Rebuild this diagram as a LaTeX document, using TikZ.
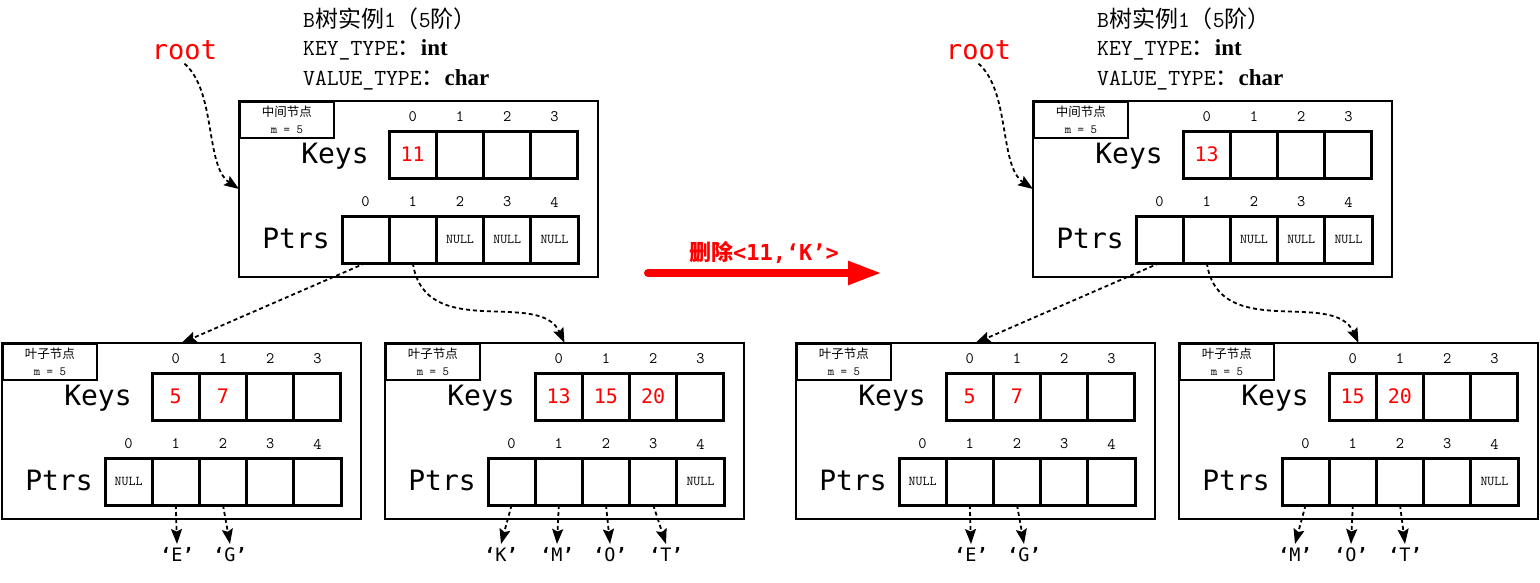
\documentclass[tikz,border=0pt]{standalone}
\usepackage{fontspec}
\usetikzlibrary{arrows.meta}
\newfontfamily\cjk{Noto Sans CJK SC}
\newfontfamily\dvm{DejaVu Sans Mono}
\newfontfamily\lserif{Liberation Serif}
\begin{document}
\begin{tikzpicture}[x=1pt,y=-1pt,
  obox/.style={draw, line width=2pt, minimum width=359pt, minimum height=176pt, inner sep=0pt, outer sep=0pt},
  lbox/.style={draw, line width=1.8pt, minimum width=94pt, minimum height=36pt, inner sep=0pt, align=center, font=\fontsize{12.5}{17}\selectfont},
  cell/.style={draw, line width=3pt, minimum width=47.2pt, minimum height=47pt, inner sep=0pt, outer sep=0pt},
  idx/.style={font=\ttfamily\fontsize{16}{16}\selectfont, inner sep=0pt},
  keysf/.style={font=\dvm\fontsize{28}{30}\selectfont, inner sep=0pt},
  keyv/.style={font=\dvm\fontsize{20}{22}\selectfont, text=red, inner sep=0pt},
  nullv/.style={font=\ttfamily\fontsize{13.5}{14}\selectfont, inner sep=0pt},
  chv/.style={font=\dvm\fontsize{18.5}{20}\selectfont, anchor=north, inner sep=3pt},
  hdr/.style={anchor=base west, inner sep=0pt, font=\ttfamily\fontsize{23}{25}\selectfont},
  rootf/.style={font=\dvm\fontsize{27}{29}\selectfont, text=red, anchor=base, inner sep=4pt},
  ptrarrow/.style={line width=1.8pt, dash pattern=on 4pt off 3pt, -{Stealth[length=15pt,width=11pt,inset=2.5pt]}},
  bnode/.pic={
    \node[obox, anchor=north west] (-box) at (0,0) {};
    \node[lbox, anchor=north west] (-lab) at (0,0) {{\cjk #1}\\{\ttfamily m = 5}};
    \node[keysf, anchor=base] (-kt) at (96,62) {Keys};
    \node[keysf, anchor=base] (-pt) at (57,147) {Ptrs};
    \foreach \i in {0,...,3}{
      \node[cell] (-k\i) at ({173.625+47.25*\i},53.5) {};
      \node[idx] (-ki\i) at ({173.625+47.25*\i},16) {\i};
    }
    \foreach \i in {0,...,4}{
      \node[cell] (-p\i) at ({126.6+47.2*\i},138.5) {};
      \node[idx] (-pi\i) at ({126.6+47.2*\i},101) {\i};
    }
  }
]
\useasboundingbox (0,0) rectangle (1540,582);

% ---------------- left panel ----------------
\node[hdr] (h1) at (303,27) {B{\cjk 树实例}1{\cjk （}5{\cjk 阶）}};
\node[hdr] (h2) at (303,55) {KEY\_TYPE{\cjk ：}{\lserif\bfseries int}};
\node[hdr] (h3) at (303,85) {VALUE\_TYPE{\cjk ：}{\lserif\bfseries char}};
\node[rootf] (rootL) at (184.5,59) {root};

\pic (R) at (239,101) {bnode=中间节点};
\pic (L1) at (2,343) {bnode=叶子节点};
\pic (L2) at (385,343) {bnode=叶子节点};

\node[keyv] (rv0) at (R-k0) {11};
\node[nullv] (rn2) at (R-p2) {NULL};
\node[nullv] (rn3) at (R-p3) {NULL};
\node[nullv] (rn4) at (R-p4) {NULL};

\node[keyv] (l1v0) at (L1-k0) {5};
\node[keyv] (l1v1) at (L1-k1) {7};
\node[nullv] (l1n0) at (L1-p0) {NULL};

\node[keyv] (l2v0) at (L2-k0) {13};
\node[keyv] (l2v1) at (L2-k1) {15};
\node[keyv] (l2v2) at (L2-k2) {20};
\node[nullv] (l2n4) at (L2-p4) {NULL};

\node[chv] (cE) at (177,544) {{\bfseries ‘}E{\bfseries ’}};
\node[chv] (cG) at (230,544) {{\bfseries ‘}G{\bfseries ’}};
\node[chv] (cK) at (501,544) {{\bfseries ‘}K{\bfseries ’}};
\node[chv] (cM) at (557,544) {{\bfseries ‘}M{\bfseries ’}};
\node[chv] (cO) at (610,544) {{\bfseries ‘}O{\bfseries ’}};
\node[chv] (cT) at (666,544) {{\bfseries ‘}T{\bfseries ’}};

\draw[ptrarrow] (rootL.south) .. controls +(32,28) and +(-34,-23) .. (R-box.west);
\draw[ptrarrow] (R-p0.south) -- (L1-box.north);
\draw[ptrarrow] (R-p1.south) .. controls +(12,80) and +(-25,-55) .. (L2-box.north);
\draw[ptrarrow] (L1-p1.south) -- (cE.north);
\draw[ptrarrow] (L1-p2.south) -- (cG.north);
\draw[ptrarrow] (L2-p0.south) -- (cK.north);
\draw[ptrarrow] (L2-p1.south) -- (cM.north);
\draw[ptrarrow] (L2-p2.south) -- (cO.north);
\draw[ptrarrow] (L2-p3.south) -- (cT.north);

% ---------------- middle arrow ----------------
\coordinate (a1) at (648,273);
\coordinate (a2) at (882,273);
\draw[red, line width=8pt, line cap=round, -{Triangle[length=34pt,width=22pt]}] (a1) -- (a2);
\node[text=red, inner sep=0pt, font=\fontsize{22}{24}\selectfont] (alab) at (764,252) {{\cjk\bfseries 删除}{\dvm\bfseries <11,‘K’>}};

% ---------------- right panel ----------------
\node[hdr] (h1r) at (1097,27) {B{\cjk 树实例}1{\cjk （}5{\cjk 阶）}};
\node[hdr] (h2r) at (1097,55) {KEY\_TYPE{\cjk ：}{\lserif\bfseries int}};
\node[hdr] (h3r) at (1097,85) {VALUE\_TYPE{\cjk ：}{\lserif\bfseries char}};
\node[rootf] (rootR) at (978.5,59) {root};

\pic (S) at (1033,101) {bnode=中间节点};
\pic (M1) at (796,343) {bnode=叶子节点};
\pic (M2) at (1179,343) {bnode=叶子节点};

\node[keyv] (sv0) at (S-k0) {13};
\node[nullv] (sn2) at (S-p2) {NULL};
\node[nullv] (sn3) at (S-p3) {NULL};
\node[nullv] (sn4) at (S-p4) {NULL};

\node[keyv] (m1v0) at (M1-k0) {5};
\node[keyv] (m1v1) at (M1-k1) {7};
\node[nullv] (m1n0) at (M1-p0) {NULL};

\node[keyv] (m2v0) at (M2-k0) {15};
\node[keyv] (m2v1) at (M2-k1) {20};
\node[nullv] (m2n4) at (M2-p4) {NULL};

\node[chv] (dE) at (971,544) {{\bfseries ‘}E{\bfseries ’}};
\node[chv] (dG) at (1024,544) {{\bfseries ‘}G{\bfseries ’}};
\node[chv] (dM) at (1295,544) {{\bfseries ‘}M{\bfseries ’}};
\node[chv] (dO) at (1351,544) {{\bfseries ‘}O{\bfseries ’}};
\node[chv] (dT) at (1405,544) {{\bfseries ‘}T{\bfseries ’}};

\draw[ptrarrow] (rootR.south) .. controls +(32,28) and +(-34,-23) .. (S-box.west);
\draw[ptrarrow] (S-p0.south) -- (M1-box.north);
\draw[ptrarrow] (S-p1.south) .. controls +(12,80) and +(-25,-55) .. (M2-box.north);
\draw[ptrarrow] (M1-p1.south) -- (dE.north);
\draw[ptrarrow] (M1-p2.south) -- (dG.north);
\draw[ptrarrow] (M2-p0.south) -- (dM.north);
\draw[ptrarrow] (M2-p1.south) -- (dO.north);
\draw[ptrarrow] (M2-p2.south) -- (dT.north);
\end{tikzpicture}
\end{document}
